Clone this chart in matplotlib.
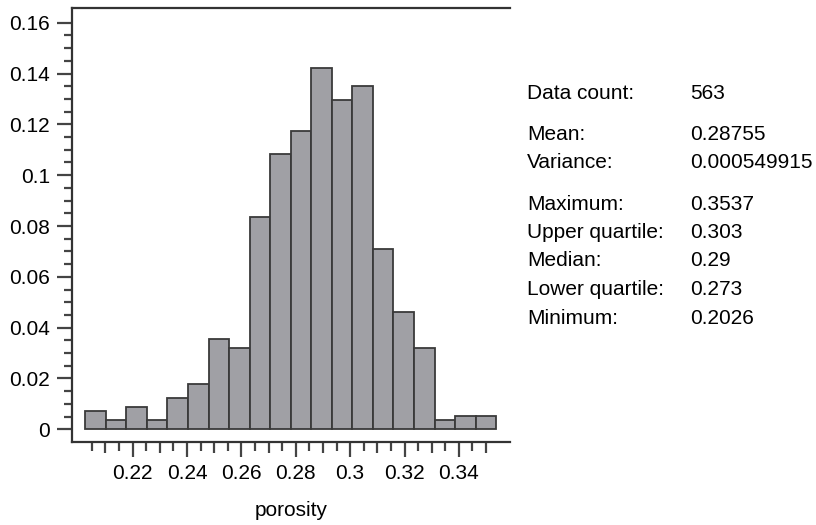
import matplotlib
matplotlib.use("Agg")
import matplotlib.pyplot as plt
from matplotlib.ticker import FixedLocator, FuncFormatter

plt.rcParams['font.family'] = ['Liberation Sans', 'DejaVu Sans']

# Histogram data (relative frequency per bin), 20 bins from min to max
bin_min = 0.2026
bin_max = 0.3537
frequencies = [0.0071, 0.0036, 0.0089, 0.0036, 0.0124, 0.0178, 0.0355, 0.0320,
               0.0835, 0.1083, 0.1172, 0.1421, 0.1297, 0.1350, 0.0710, 0.0462,
               0.0320, 0.0036, 0.0053, 0.0053]

x_major = [0.22, 0.24, 0.26, 0.28, 0.30, 0.32, 0.34]
x_major_labels = ["0.22", "0.24", "0.26", "0.28", "0.3", "0.32", "0.34"]
x_medium = [0.21, 0.23, 0.25, 0.27, 0.29, 0.31, 0.33, 0.35]
x_minor = [0.205, 0.215, 0.225, 0.235, 0.245, 0.255, 0.265, 0.275, 0.285,
           0.295, 0.305, 0.315, 0.325, 0.335, 0.345]
y_major = [0, 0.02, 0.04, 0.06, 0.08, 0.1, 0.12, 0.14, 0.16]
y_minor = [i * 0.005 for i in range(33)]

stat_labels = ["Data count:", "Mean:", "Variance:", "Maximum:", "Upper quartile:",
               "Median:", "Lower quartile:", "Minimum:"]
stat_values = ["563", "0.28755", "0.000549915", "0.3537", "0.303", "0.29",
               "0.273", "0.2026"]

n_bins = len(frequencies)
width = (bin_max - bin_min) / n_bins
lefts = [bin_min + i * width for i in range(n_bins)]

fig = plt.figure(figsize=(8.16, 5.25), dpi=100)
ax = fig.add_axes([72 / 816, 1 - 442 / 525, (510 - 72) / 816, (442 - 8) / 525])

ax.bar(lefts, frequencies, width=width, align='edge', color='#a0a0a5',
       edgecolor='#3a3a3a', linewidth=1.3)

ax.set_xlim(0.1977, 0.3588)
ax.set_ylim(-0.0050, 0.1658)

for s in ['left', 'top', 'bottom']:
    ax.spines[s].set_color('#333333')
    ax.spines[s].set_linewidth(1.6)
ax.spines['right'].set_visible(False)

fs = 15
tick_col = '#444444'
ax.yaxis.set_major_locator(FixedLocator(y_major))
ax.yaxis.set_minor_locator(FixedLocator(y_minor))
ax.yaxis.set_major_formatter(FuncFormatter(lambda v, p: f"{v:g}"))
ax.tick_params(axis='y', which='major', length=11, width=1.6, color=tick_col,
               labelsize=fs, pad=5)
ax.tick_params(axis='y', which='minor', length=6, width=1.6, color=tick_col)

ax.xaxis.set_major_locator(FixedLocator(x_major))
ax.set_xticklabels(x_major_labels)
ax.xaxis.set_minor_locator(FixedLocator(x_minor))
ax.tick_params(axis='x', which='major', length=11, width=1.6, color=tick_col,
               labelsize=fs, pad=5)
ax.tick_params(axis='x', which='minor', length=6.5, width=1.6, color=tick_col)

sec = ax.secondary_xaxis('bottom')
sec.set_xticks(x_medium)
sec.set_xticklabels([])
sec.tick_params(axis='x', length=8, width=1.6, color=tick_col)
sec.spines['bottom'].set_visible(False)

ax.set_xlabel("porosity", fontsize=fs, labelpad=13)

# statistics block (baselines in pixels from top)
rows_baseline = [99, 140, 168, 209.5, 238, 266.5, 295, 323.5]
for lab, val, yy in zip(stat_labels, stat_values, rows_baseline):
    fig.text(527 / 816, 1 - yy / 525, lab, fontsize=fs, va='baseline', ha='left')
    fig.text(690 / 816, 1 - yy / 525, val, fontsize=fs, va='baseline', ha='left')

fig.savefig("out.png", dpi=100)
